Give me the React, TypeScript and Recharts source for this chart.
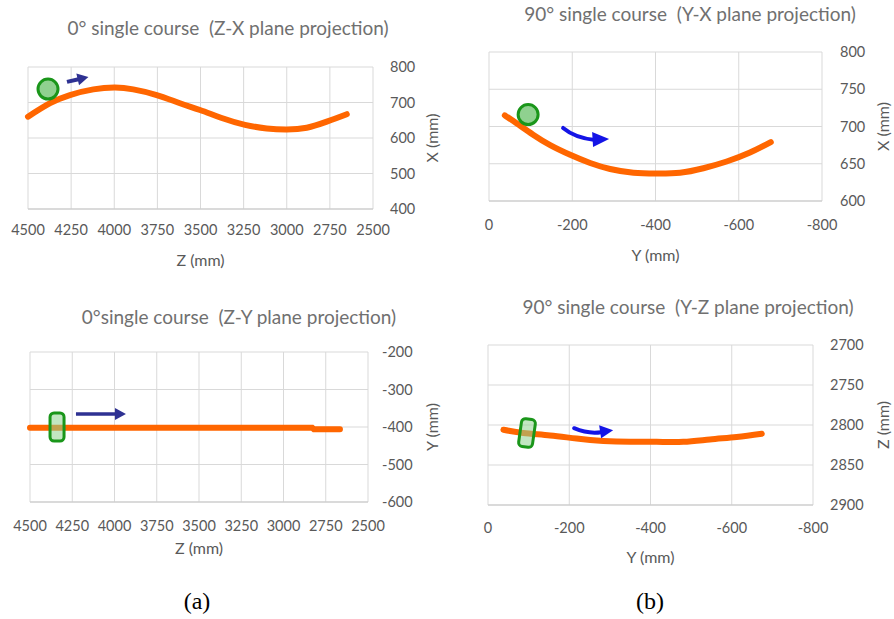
import React from "react";
import { LineChart, Line, XAxis, YAxis, CartesianGrid, ReferenceDot } from "recharts";

// 0° course, Z-X projection
const zxZ = [4500, 4372, 4257, 4121, 3996, 3890, 3754, 3619, 3503, 3368, 3242, 3116, 3000, 2884, 2768, 2652];
const zxX = [660, 698, 721, 737, 742, 737, 721, 698, 679, 655, 637, 627, 624, 629, 646, 667];
// 90° course, Y-X projection
const yxY = [-38, -67, -106, -147, -195, -243, -291, -347, -403, -459, -515, -571, -627, -677];
const yxX = [715, 704, 689, 675, 662, 651, 643, 638, 637, 638, 644, 653, 665, 679];
// 0° course, Z-Y projection
const zyZ = [4500, 4200, 3900, 3600, 3300, 3000, 2830, 2820, 2666];
const zyY = [-402, -402, -402, -402, -402, -402, -402, -406, -406];
// 90° course, Y-Z projection
const yzY = [-38, -87, -153, -218, -284, -350, -415, -481, -546, -612, -674];
const yzZ = [2806, 2810, 2813, 2817, 2820, 2821, 2821, 2821, 2818, 2815, 2811];

const zTicks = [4500, 4250, 4000, 3750, 3500, 3250, 3000, 2750, 2500];
const xTicksA = [400, 500, 600, 700, 800];
const yTicks = [0, -200, -400, -600, -800];
const xTicksB = [600, 650, 700, 750, 800];
const yTicksC = [-600, -500, -400, -300, -200];
const zTicksD = [2700, 2750, 2800, 2850, 2900];

// tool / direction markers (data coordinates)
const toolA = { z: 4384, x: 738 };
const arrowA = { z: 4274, x: 758 };
const toolB = { y: -94, x: 716 };
const arrowB = { y: -178, x: 698 };
const toolC = { z: 4340, y: -400 };
const arrowC = { z: 4228, y: -365 };
const toolD = { y: -96, z: 2810 };
const arrowD = { y: -212, z: 2804 };

const ORANGE = "#ff6600";
const GRID = "#d9d9d9";
const TEXT = "#595959";
const FONT = "Lato, 'Open Sans', sans-serif";
const tickStyle = { fontSize: 14.5, fill: TEXT, fontFamily: FONT };

const circle = (p: any) => (
  <circle cx={p.cx} cy={p.cy} r={10} fill="#8fd18f" stroke="#1a961a" strokeWidth={3} />
);
const rect = (angle: number) => (p: any) => (
  <g transform={`translate(${p.cx},${p.cy}) rotate(${angle})`}>
    <rect x={-7} y={-14} width={14} height={28} rx={4} fill="#8fd18f" fillOpacity={0.55} stroke="#1a961a" strokeWidth={3} />
  </g>
);
const straightArrow = (len: number, angle: number, color: string, w: number) => (p: any) => (
  <g transform={`translate(${p.cx},${p.cy}) rotate(${angle})`}>
    <line x1={0} y1={0} x2={len - 9} y2={0} stroke={color} strokeWidth={w} />
    <polygon points={`${len - 11},-6 ${len},0 ${len - 11},6`} fill={color} />
  </g>
);
const curvedArrowB = (p: any) => (
  <g transform={`translate(${p.cx},${p.cy})`} fill="none">
    <path d="M0,0 Q12,10 32,12" stroke="#1414e6" strokeWidth={4} strokeLinecap="round" />
    <polygon points="29,4 46,11 30,19" fill="#1414e6" />
  </g>
);
const curvedArrowD = (p: any) => (
  <g transform={`translate(${p.cx},${p.cy})`} fill="none">
    <path d="M0,0 Q14,6 27,4" stroke="#1414e6" strokeWidth={4} strokeLinecap="round" />
    <polygon points="25,-3 39,2 27,10" fill="#1414e6" />
  </g>
);

function Title({ text, cx, cy }: { text: string; cx: number; cy: number }) {
  return (
    <div
      style={{
        position: "absolute",
        left: cx - 220,
        top: cy - 11,
        width: 440,
        lineHeight: "22px",
        textAlign: "center",
        fontFamily: FONT,
        fontSize: 19,
        color: "#707070",
        whiteSpace: "pre",
      }}
    >
      {text}
    </div>
  );
}

function Caption({ text, cx, cy }: { text: string; cx: number; cy: number }) {
  return (
    <div
      style={{
        position: "absolute",
        left: cx - 30,
        top: cy - 14,
        width: 60,
        lineHeight: "28px",
        textAlign: "center",
        fontFamily: "'Liberation Serif', serif",
        fontSize: 24,
        color: "#000",
      }}
    >
      {text}
    </div>
  );
}

const axisTitle = { fill: TEXT, fontSize: 16 };

export default function App() {
  const dataA = zxZ.map((z, i) => ({ z, x: zxX[i] }));
  const dataB = yxY.map((y, i) => ({ y, x: yxX[i] }));
  const dataC = zyZ.map((z, i) => ({ z, y: zyY[i] }));
  const dataD = yzY.map((y, i) => ({ y, z: yzZ[i] }));

  return (
    <div style={{ position: "absolute", left: 0, top: 0, width: 894, height: 619, background: "#fff" }}>
      <Title text="0° single course  (Z-X plane projection)" cx={228} cy={28} />
      <div style={{ position: "absolute", left: 0, top: 0 }}>
        <LineChart width={450} height={285} data={dataA} margin={{ top: 67, left: 28, right: 12, bottom: 16 }} style={{ fontFamily: FONT }}>
          <CartesianGrid stroke={GRID} />
          <XAxis
            dataKey="z" type="number" domain={[2500, 4500]} ticks={zTicks} reversed interval={0}
            tickLine={false} tickSize={0} tickMargin={16} height={60} axisLine={{ stroke: "#c8c8c8" }} tick={tickStyle}
            label={{ value: "Z (mm)", position: "insideBottom", offset: 3, ...axisTitle }}
          />
          <YAxis
            orientation="right" type="number" domain={[400, 800]} ticks={xTicksA} interval={0} width={65}
            tickLine={false} tickSize={0} tickMargin={17} axisLine={false} tick={tickStyle}
            label={{ value: "X (mm)", angle: -90, position: "insideRight", offset: 6, ...axisTitle, style: { textAnchor: "middle" } }}
          />
          <Line dataKey="x" type="natural" stroke={ORANGE} strokeWidth={6} strokeLinecap="round" dot={false} isAnimationActive={false} />
          <ReferenceDot x={toolA.z} y={toolA.x} shape={circle} />
          <ReferenceDot x={arrowA.z} y={arrowA.x} shape={straightArrow(22, -13, "#2e3192", 4)} />
        </LineChart>
      </div>

      <Title text="90° single course  (Y-X plane projection)" cx={690} cy={14} />
      <div style={{ position: "absolute", left: 450, top: 0 }}>
        <LineChart width={444} height={285} data={dataB} margin={{ top: 52, left: 39, right: 6, bottom: 19 }} style={{ fontFamily: FONT }}>
          <CartesianGrid stroke={GRID} />
          <XAxis
            dataKey="y" type="number" domain={[-800, 0]} ticks={yTicks} reversed interval={0}
            tickLine={false} tickSize={0} tickMargin={19} height={65} axisLine={{ stroke: "#c8c8c8" }} tick={tickStyle}
            label={{ value: "Y (mm)", position: "insideBottom", offset: 5, ...axisTitle }}
          />
          <YAxis
            orientation="right" type="number" domain={[600, 800]} ticks={xTicksB} interval={0} width={66}
            tickLine={false} tickSize={0} tickMargin={18} axisLine={false} tick={tickStyle}
            label={{ value: "X (mm)", angle: -90, position: "insideRight", offset: 5, ...axisTitle, style: { textAnchor: "middle" } }}
          />
          <Line dataKey="x" type="natural" stroke={ORANGE} strokeWidth={6} strokeLinecap="round" dot={false} isAnimationActive={false} />
          <ReferenceDot x={toolB.y} y={toolB.x} shape={circle} />
          <ReferenceDot x={arrowB.y} y={arrowB.x} shape={curvedArrowB} />
        </LineChart>
      </div>

      <Title text="0°single course  (Z-Y plane projection)" cx={239} cy={317} />
      <div style={{ position: "absolute", left: 0, top: 290 }}>
        <LineChart width={450} height={290} data={dataC} margin={{ top: 62, left: 30, right: 12, bottom: 18 }} style={{ fontFamily: FONT }}>
          <CartesianGrid stroke={GRID} />
          <XAxis
            dataKey="z" type="number" domain={[2500, 4500]} ticks={zTicks} reversed interval={0}
            tickLine={false} tickSize={0} tickMargin={19} height={60} axisLine={{ stroke: "#c8c8c8" }} tick={tickStyle}
            label={{ value: "Z (mm)", position: "insideBottom", offset: 8, ...axisTitle }}
          />
          <YAxis
            orientation="right" type="number" domain={[-600, -200]} ticks={yTicksC} interval={0} width={70}
            tickLine={false} tickSize={0} tickMargin={14} axisLine={false} tick={tickStyle}
            label={{ value: "Y (mm)", angle: -90, position: "insideRight", offset: 6, ...axisTitle, style: { textAnchor: "middle" } }}
          />
          <Line dataKey="y" type="linear" stroke={ORANGE} strokeWidth={6} strokeLinecap="round" dot={false} isAnimationActive={false} />
          <ReferenceDot x={toolC.z} y={toolC.y} shape={rect(0)} />
          <ReferenceDot x={arrowC.z} y={arrowC.y} shape={straightArrow(50, 0, "#2e3192", 3.5)} />
        </LineChart>
      </div>

      <Title text="90° single course  (Y-Z plane projection)" cx={688} cy={307} />
      <div style={{ position: "absolute", left: 450, top: 290 }}>
        <LineChart width={444} height={290} data={dataD} margin={{ top: 55, left: 38, right: 6, bottom: 15 }} style={{ fontFamily: FONT }}>
          <CartesianGrid stroke={GRID} />
          <XAxis
            dataKey="y" type="number" domain={[-800, 0]} ticks={yTicks} reversed interval={0}
            tickLine={false} tickSize={0} tickMargin={18} height={60} axisLine={{ stroke: "#c8c8c8" }} tick={tickStyle}
            label={{ value: "Y (mm)", position: "insideBottom", offset: 2, ...axisTitle }}
          />
          <YAxis
            orientation="right" type="number" domain={[2700, 2900]} ticks={zTicksD} reversed interval={0} width={75}
            tickLine={false} tickSize={0} tickMargin={17} axisLine={false} tick={tickStyle}
            label={{ value: "Z (mm)", angle: -90, position: "insideRight", offset: 5, ...axisTitle, style: { textAnchor: "middle" } }}
          />
          <Line dataKey="z" type="natural" stroke={ORANGE} strokeWidth={6} strokeLinecap="round" dot={false} isAnimationActive={false} />
          <ReferenceDot x={toolD.y} y={toolD.z} shape={rect(8)} />
          <ReferenceDot x={arrowD.y} y={arrowD.z} shape={curvedArrowD} />
        </LineChart>
      </div>

      <Caption text="(a)" cx={197} cy={601} />
      <Caption text="(b)" cx={650} cy={601} />
    </div>
  );
}
